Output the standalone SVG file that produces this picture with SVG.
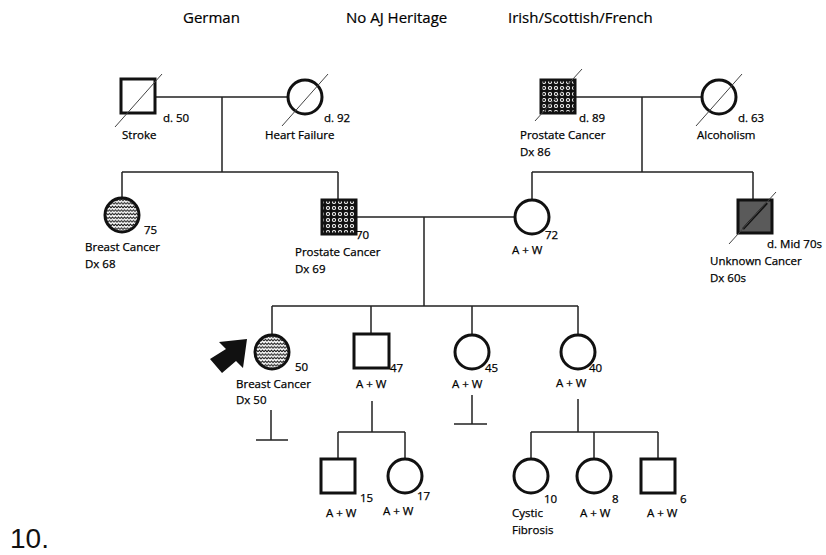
<svg xmlns="http://www.w3.org/2000/svg" width="826" height="555" viewBox="0 0 826 555">
<style>
  .t{font-family:"Open Sans","Liberation Sans",sans-serif;font-size:11.5px;fill:#000;stroke:#000;stroke-width:0.25}
  .h{font-family:"Open Sans","Liberation Sans",sans-serif;font-size:15px;fill:#000;stroke:#000;stroke-width:0.2}
  .sym{fill:#fff;stroke:#111;stroke-width:3}
  .ln{fill:none;stroke:#222;stroke-width:1.5}
  .sl{fill:none;stroke:#444;stroke-width:1}
</style>
<defs>
  <pattern id="wave" width="6" height="3.6" patternUnits="userSpaceOnUse">
    <rect width="6" height="3.6" fill="#fff"/>
    <path d="M0 2.6 L1.5 1 L3 2.6 L4.5 1 L6 2.6" fill="none" stroke="#111" stroke-width="1"/>
  </pattern>
  <pattern id="dots" width="6" height="6" patternUnits="userSpaceOnUse" x="1" y="1">
    <rect width="6" height="6" fill="#111"/>
    <circle cx="3" cy="3" r="2.1" fill="#fff"/>
    <circle cx="3" cy="3" r="1.1" fill="#111"/>
  </pattern>
</defs>

<text class="h" x="183" y="23">German</text>
<text class="h" x="346" y="23">No AJ Heritage</text>
<text class="h" x="508" y="23">Irish/Scottish/French</text>
<text x="10" y="548" font-family="Liberation Sans,Arial,sans-serif" font-size="28" fill="#111">10.</text>

<g id="connectors">
  <path class="ln" d="M155 97 H288 M222 97 V172 M122 172 H338 M122 172 V198 M338 172 V199"/>
  <path class="ln" d="M576 97 H702 M642 97 V172 M532 172 H753 M532 172 V200 M753 172 V199"/>
  <path class="ln" d="M356 217 H515 M424 217 V306 M272 306 H578 M272 306 V335 M371 306 V334 M472 306 V335 M578 306 V335"/>
  <path class="ln" d="M271 410 V440 M256 440 H288"/>
  <path class="ln" d="M472 395 V424 M454 424 H487"/>
  <path class="ln" d="M372 401 V432 M338 432 H405 M338 432 V458 M405 432 V459"/>
  <path class="ln" d="M578 399 V432 M531 432 H658 M531 432 V459 M594 432 V459 M658 432 V459"/>
</g>

<g id="gp-paternal-grandfather">
  <rect class="sym" x="121" y="79" width="34" height="34"/>
  <line class="sl" x1="115" y1="127" x2="162" y2="74"/>
  <text class="t" x="163" y="122">d. 50</text>
  <text class="t" x="122" y="139">Stroke</text>
</g>
<g id="gp-paternal-grandmother">
  <circle class="sym" cx="305" cy="97" r="17"/>
  <line class="sl" x1="282" y1="126" x2="328" y2="74"/>
  <text class="t" x="324" y="122">d. 92</text>
  <text class="t" x="265" y="139">Heart Failure</text>
</g>
<g id="gp-maternal-grandfather">
  <rect class="sym" x="541" y="80" width="34" height="33" style="fill:url(#dots)"/>
  <line class="sl" x1="535" y1="121" x2="582" y2="69"/>
  <text class="t" x="579" y="122">d. 89</text>
  <text class="t" x="520" y="139">Prostate Cancer</text>
  <text class="t" x="520" y="156">Dx 86</text>
</g>
<g id="gp-maternal-grandmother">
  <circle class="sym" cx="719" cy="97" r="17"/>
  <line class="sl" x1="696" y1="126" x2="742" y2="74"/>
  <text class="t" x="738" y="122">d. 63</text>
  <text class="t" x="697" y="139">Alcoholism</text>
</g>

<g id="aunt">
  <circle class="sym" cx="122" cy="215" r="17" style="fill:url(#wave)"/>
  <text class="t" x="144" y="234">75</text>
  <text class="t" x="85" y="251">Breast Cancer</text>
  <text class="t" x="85" y="268">Dx 68</text>
</g>
<g id="father">
  <rect class="sym" x="322" y="200" width="34" height="34" style="fill:url(#dots)"/>
  <text class="t" x="356" y="239">70</text>
  <text class="t" x="295" y="256">Prostate Cancer</text>
  <text class="t" x="295" y="273">Dx 69</text>
</g>
<g id="mother">
  <circle class="sym" cx="532" cy="217" r="17"/>
  <text class="t" x="545" y="239">72</text>
  <text class="t" x="512" y="254">A + W</text>
</g>
<g id="uncle">
  <rect class="sym" x="738" y="200" width="34" height="33" style="fill:#5a5a5a"/>
  <line x1="743" y1="229" x2="767" y2="203" stroke="#111" stroke-width="2.5"/>
  <line class="sl" x1="729" y1="244" x2="776" y2="192"/>
  <text class="t" x="767" y="248">d. Mid 70s</text>
  <text class="t" x="710" y="265">Unknown  Cancer</text>
  <text class="t" x="710" y="282">Dx 60s</text>
</g>

<g id="proband">
  <circle class="sym" cx="272" cy="352" r="17" style="fill:url(#wave)"/>
  <polygon points="247,339 219,342 226,349 210,359 222,373 236,361 243,368" fill="#111"/>
  <text class="t" x="295" y="371">50</text>
  <text class="t" x="236" y="388">Breast Cancer</text>
  <text class="t" x="236" y="404">Dx 50</text>
</g>
<g id="brother-47">
  <rect class="sym" x="354" y="334" width="35" height="34"/>
  <text class="t" x="390" y="372">47</text>
  <text class="t" x="356" y="388">A + W</text>
</g>
<g id="sister-45">
  <circle class="sym" cx="472" cy="352" r="17"/>
  <text class="t" x="485" y="372">45</text>
  <text class="t" x="452" y="388">A + W</text>
</g>
<g id="sister-40">
  <circle class="sym" cx="578" cy="352" r="17"/>
  <text class="t" x="589" y="372">40</text>
  <text class="t" x="556" y="387">A + W</text>
</g>

<g id="nephew-15">
  <rect class="sym" x="321" y="459" width="34" height="34"/>
  <text class="t" x="360" y="502">15</text>
  <text class="t" x="326" y="517">A + W</text>
</g>
<g id="niece-17">
  <circle class="sym" cx="405" cy="476" r="17"/>
  <text class="t" x="417" y="500">17</text>
  <text class="t" x="383" y="515">A + W</text>
</g>
<g id="niece-10">
  <circle class="sym" cx="531" cy="476" r="17"/>
  <text class="t" x="544" y="503">10</text>
  <text class="t" x="512" y="517">Cystic</text>
  <text class="t" x="512" y="534">Fibrosis</text>
</g>
<g id="niece-8">
  <circle class="sym" cx="594" cy="476" r="17"/>
  <text class="t" x="612" y="503">8</text>
  <text class="t" x="580" y="517">A + W</text>
</g>
<g id="nephew-6">
  <rect class="sym" x="641" y="459" width="34" height="34"/>
  <text class="t" x="680" y="503">6</text>
  <text class="t" x="647" y="517">A + W</text>
</g>
</svg>
